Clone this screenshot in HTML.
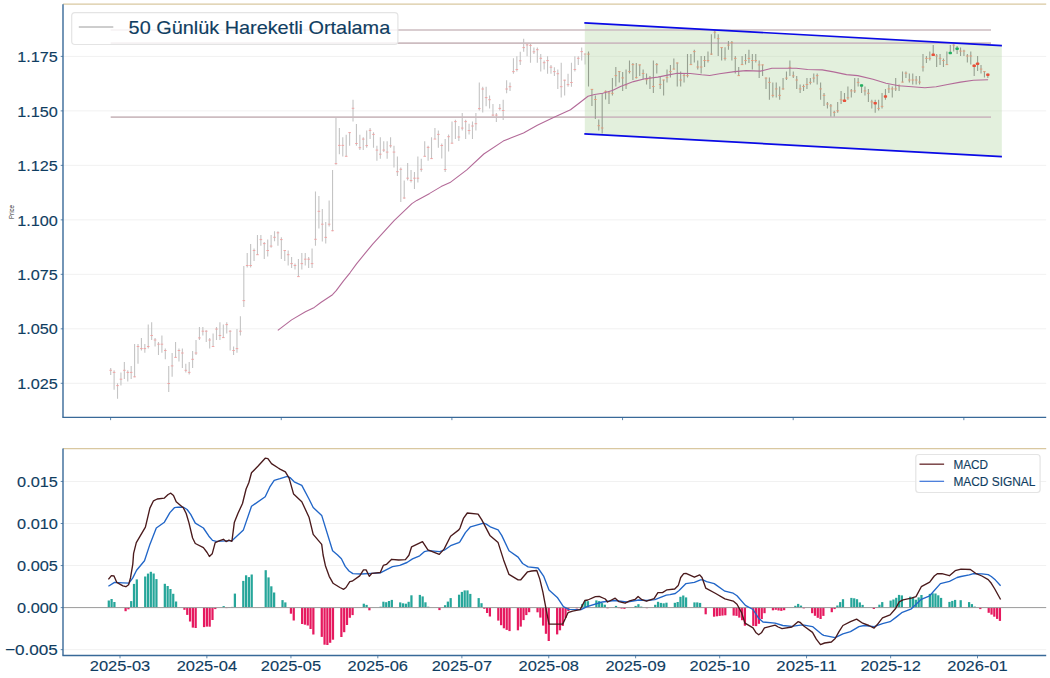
<!DOCTYPE html>
<html><head><meta charset="utf-8"><title>Chart</title>
<style>html,body{margin:0;padding:0;background:#fff;overflow:hidden}svg{display:block}</style></head>
<body>
<svg width="1050" height="678" viewBox="0 0 1050 678" font-family="Liberation Sans, sans-serif">
<style>text{stroke:#0f3d61;stroke-width:0.14px;paint-order:stroke}</style>
<rect width="1050" height="678" fill="#fff"/>
<line x1="63.0" x2="1046.2" y1="383.30" y2="383.30" stroke="#f1f1f1" stroke-width="1"/>
<line x1="63.0" x2="1046.2" y1="328.82" y2="328.82" stroke="#f1f1f1" stroke-width="1"/>
<line x1="63.0" x2="1046.2" y1="274.33" y2="274.33" stroke="#f1f1f1" stroke-width="1"/>
<line x1="63.0" x2="1046.2" y1="219.85" y2="219.85" stroke="#f1f1f1" stroke-width="1"/>
<line x1="63.0" x2="1046.2" y1="165.37" y2="165.37" stroke="#f1f1f1" stroke-width="1"/>
<line x1="63.0" x2="1046.2" y1="110.88" y2="110.88" stroke="#f1f1f1" stroke-width="1"/>
<line x1="63.0" x2="1046.2" y1="56.40" y2="56.40" stroke="#f1f1f1" stroke-width="1"/>
<path d="M110.70 368.1V374.9M114.11 370.3V389.8M117.53 383.3V398.7M120.94 372.6V385.6M124.35 361.9V378.9M127.77 370.3V381.4M131.18 366.1V378.9M134.59 344.1V377.3M138.00 344.1V363.8M141.42 337.9V350.5M144.83 344.1V352.8M148.24 324.6V348.6M151.66 322.3V340.0M155.07 337.9V346.5M158.48 342.1V355.1M161.90 335.5V352.8M165.31 348.6V359.3M168.72 365.9V392.1M172.13 353.0V376.8M175.55 342.1V357.4M178.96 348.6V361.6M182.37 348.6V368.1M185.79 363.8V372.4M189.20 361.9V374.5M192.61 350.9V368.1M196.02 340.0V355.1M199.44 326.9V340.0M202.85 326.9V335.5M206.26 330.3V342.1M209.68 337.9V348.6M213.09 333.5V346.5M216.50 326.9V340.0M219.92 322.3V340.0M223.33 324.6V337.9M226.74 322.3V333.5M230.16 330.3V350.5M233.57 346.5V355.1M236.98 329.1V352.8M240.39 316.2V335.5M243.81 265.9V307.1M247.22 252.9V267.5M250.63 244.1V267.5M254.05 248.5V261.0M257.46 235.1V255.0M260.87 235.1V245.8M264.28 241.9V259.1M267.70 239.6V256.6M271.11 235.1V247.7M274.52 231.2V241.2M277.94 231.2V245.8M281.35 237.3V259.1M284.76 250.5V261.0M288.18 250.5V265.5M291.59 257.1V268.0M295.00 263.6V269.6M298.42 259.1V276.6M301.83 252.9V269.6M305.24 252.9V265.5M308.65 257.1V268.0M312.07 248.5V268.0M315.48 191.5V245.8M318.89 196.0V228.5M322.31 209.0V241.6M325.72 222.0V243.5M329.13 200.4V226.4M332.55 170.1V231.2M335.96 117.1V164.7M339.37 127.9V154.2M342.78 137.2V156.6M346.20 134.7V156.6M349.61 132.3V145.8M353.02 99.7V121.6M356.44 124.0V145.8M359.85 134.7V150.1M363.26 137.2V150.1M366.68 130.4V147.7M370.09 127.9V139.1M373.50 132.3V147.7M376.91 145.8V160.7M380.33 137.2V158.7M383.74 141.2V152.1M387.15 141.2V158.7M390.57 137.2V147.7M393.98 145.8V167.5M397.39 156.6V176.1M400.80 167.5V202.0M404.22 180.5V198.8M407.63 163.1V180.5M411.04 170.1V182.6M414.46 172.0V189.1M417.87 156.6V182.6M421.28 158.7V171.7M424.70 141.2V156.6M428.11 145.8V160.7M431.52 137.2V159.1M434.93 127.9V139.1M438.35 130.4V147.7M441.76 143.5V158.6M445.17 139.0V171.9M448.59 134.6V151.6M452.00 121.6V143.5M455.41 119.7V139.0M458.83 126.0V141.1M462.24 113.0V130.5M465.65 119.7V139.0M469.06 123.7V134.6M472.48 121.6V139.0M475.89 113.0V130.5M479.30 82.5V110.5M482.72 86.7V112.6M486.13 86.7V106.2M489.54 95.5V108.4M492.96 104.1V116.2M496.37 113.0V121.9M499.78 104.1V110.5M503.19 99.7V119.9M506.61 80.2V93.2M510.02 82.5V91.1M513.43 58.3V73.7M516.85 56.2V71.6M520.26 51.8V65.1M523.67 38.7V51.8M527.09 43.2V56.2M530.50 43.2V62.7M533.91 47.6V54.1M537.33 47.6V62.7M540.74 54.1V71.6M544.15 60.6V69.5M547.56 56.2V73.7M550.98 65.1V73.7M554.39 67.2V76.0M557.80 69.5V89.0M561.22 62.7V97.6M564.63 79.7V95.5M568.04 73.7V86.7M571.46 62.7V86.7M574.87 56.2V71.6M578.28 56.2V65.1M581.69 47.6V60.5M585.11 53.2V64.6" stroke="#c4c4c4" stroke-width="1.1" fill="none"/>
<path d="M109.40 370.3h2.6M112.81 372.4h2.6M116.23 385.6h2.6M119.64 379.2h2.6M123.05 370.3h2.6M126.47 372.4h2.6M129.88 372.4h2.6M133.29 376.8h2.6M136.70 346.5h2.6M140.12 348.6h2.6M143.53 348.6h2.6M146.94 346.5h2.6M150.36 335.5h2.6M153.77 340.0h2.6M157.18 344.2h2.6M160.59 344.2h2.6M164.01 350.5h2.6M167.42 383.5h2.6M170.83 365.9h2.6M174.25 357.4h2.6M177.66 350.5h2.6M181.07 353.0h2.6M184.49 370.3h2.6M187.90 372.4h2.6M191.31 359.3h2.6M194.72 353.0h2.6M198.14 337.9h2.6M201.55 331.2h2.6M204.96 331.2h2.6M208.38 340.0h2.6M211.79 346.5h2.6M215.20 329.1h2.6M218.62 335.5h2.6M222.03 337.6h2.6M225.44 324.6h2.6M228.85 331.2h2.6M232.27 350.5h2.6M235.68 348.6h2.6M239.09 331.2h2.6M242.51 300.6h2.6M245.92 265.5h2.6M249.33 265.5h2.6M252.75 250.5h2.6M256.16 254.7h2.6M259.57 239.6h2.6M262.98 243.6h2.6M266.40 250.5h2.6M269.81 246.1h2.6M273.22 237.3h2.6M276.64 232.8h2.6M280.05 239.6h2.6M283.46 250.5h2.6M286.88 254.7h2.6M290.29 263.6h2.6M293.70 265.5h2.6M297.12 276.6h2.6M300.53 263.6h2.6M303.94 259.2h2.6M307.35 259.2h2.6M310.77 263.6h2.6M314.18 239.3h2.6M317.59 211.3h2.6M321.01 224.2h2.6M324.42 237.4h2.6M327.83 224.2h2.6M331.25 230.7h2.6M334.66 163.6h2.6M338.07 145.4h2.6M341.48 145.4h2.6M344.90 156.3h2.6M348.31 132.6h2.6M351.72 108.3h2.6M355.14 143.5h2.6M358.55 147.7h2.6M361.96 139.1h2.6M365.38 145.6h2.6M368.79 130.4h2.6M372.20 134.4h2.6M375.61 150.1h2.6M379.03 154.2h2.6M382.44 150.1h2.6M385.85 152.1h2.6M389.27 145.8h2.6M392.68 152.1h2.6M396.09 171.7h2.6M399.50 169.3h2.6M402.92 198.0h2.6M406.33 178.2h2.6M409.74 180.5h2.6M413.16 178.2h2.6M416.57 178.2h2.6M419.98 169.3h2.6M423.40 156.3h2.6M426.81 147.4h2.6M430.22 158.6h2.6M433.63 139.1h2.6M437.05 134.4h2.6M440.46 145.5h2.6M443.87 169.5h2.6M447.29 136.7h2.6M450.70 143.2h2.6M454.11 121.6h2.6M457.53 137.0h2.6M460.94 128.1h2.6M464.35 121.6h2.6M467.76 130.5h2.6M471.18 126.0h2.6M474.59 123.7h2.6M478.00 108.6h2.6M481.42 89.0h2.6M484.83 97.6h2.6M488.24 99.7h2.6M491.66 115.1h2.6M495.07 115.1h2.6M498.48 108.4h2.6M501.89 110.5h2.6M505.31 89.0h2.6M508.72 86.7h2.6M512.13 71.6h2.6M515.55 69.5h2.6M518.96 60.8h2.6M522.37 47.6h2.6M525.79 44.9h2.6M529.20 45.4h2.6M532.61 51.8h2.6M536.03 49.7h2.6M539.44 58.3h2.6M542.85 62.7h2.6M546.26 60.6h2.6M549.68 67.2h2.6M553.09 71.6h2.6M556.50 73.7h2.6M559.92 86.7h2.6M563.33 80.2h2.6M566.74 84.6h2.6M570.16 82.5h2.6M573.57 69.5h2.6M576.98 58.3h2.6M580.39 51.6h2.6M583.81 54.1h2.6" stroke="#f2a0a0" stroke-width="0.9" fill="none"/>
<polygon points="584.8,22.8 1001.8,45.6 1001.8,156.6 584.8,133.9" fill="#bddcae" fill-opacity="0.42"/>
<line x1="110.7" x2="991" y1="30.0" y2="30.0" stroke="#cdbcc0" stroke-width="1.7"/>
<line x1="110.7" x2="991" y1="43.05" y2="43.05" stroke="#cdbcc0" stroke-width="1.7"/>
<line x1="110.7" x2="991" y1="117.2" y2="117.2" stroke="#cdbcc0" stroke-width="1.7"/>
<path d="M588.52 51.6V86.5M591.93 88.9V105.9M595.35 95.4V118.9M598.76 119.6V130.5M602.17 93.0V133.5M605.59 90.5V99.5M609.00 91.4V104.0M612.41 78.1V95.4M615.82 67.0V86.5M619.24 71.1V82.4M622.65 71.9V90.9M626.06 69.5V88.9M629.48 60.5V73.5M632.89 63.0V80.0M636.30 63.0V78.4M639.72 64.6V75.9M643.13 69.5V79.2M646.54 73.5V84.5M649.95 75.9V88.9M653.37 60.5V93.0M656.78 63.0V73.5M660.19 75.9V88.9M663.61 79.7V95.4M667.02 69.5V82.4M670.43 65.1V77.6M673.85 58.4V69.5M677.26 62.5V86.5M680.67 71.6V86.5M684.08 73.5V82.4M687.50 54.1V77.6M690.91 54.1V64.6M694.32 49.7V62.5M697.74 60.5V69.5M701.15 56.0V73.5M704.56 56.0V67.0M707.98 51.6V62.5M711.39 34.3V54.9M714.80 30.5V38.6M718.21 34.3V56.0M721.63 47.2V60.5M725.04 47.2V60.5M728.45 41.1V49.7M731.87 41.1V60.5M735.28 56.0V73.5M738.69 67.0V75.9M742.11 56.0V65.1M745.52 54.1V64.6M748.93 49.7V63.0M752.34 54.1V69.5M755.76 54.1V62.5M759.17 60.5V78.1M762.58 64.6V75.9M766.00 77.6V88.9M769.41 77.6V99.8M772.82 82.4V97.5M776.24 82.4V97.5M779.65 86.5V99.8M783.06 78.1V89.7M786.47 71.6V80.0M789.89 60.5V75.9M793.30 71.6V78.1M796.71 75.9V88.9M800.13 84.5V93.0M803.54 84.5V90.9M806.95 78.1V88.9M810.37 78.1V84.5M813.78 73.5V82.4M817.19 73.5V84.5M820.60 82.4V99.8M824.02 93.0V105.9M827.43 101.9V108.4M830.84 104.0V116.5M834.26 110.8V116.5M837.67 101.9V112.8M841.08 90.9V104.0M844.50 93.0V101.9M847.91 86.5V99.8M851.32 88.9V97.5M854.73 78.1V93.0M858.15 78.1V86.5M861.56 84.5V93.0M864.97 86.5V95.4M868.39 88.9V101.9M871.80 99.8V108.4M875.21 99.8V112.8M878.62 99.8V110.5M882.04 93.0V108.4M885.45 88.9V99.8M888.86 84.5V93.0M892.28 86.5V97.5M895.69 78.1V90.9M899.10 84.5V90.9M902.52 71.6V82.4M905.93 71.6V78.1M909.34 73.5V82.4M912.75 73.5V84.5M916.17 75.9V84.5M919.58 75.9V84.5M922.99 54.1V71.6M926.41 56.0V63.0M929.82 51.6V60.5M933.23 45.1V56.0M936.65 54.1V67.0M940.06 54.1V65.1M943.47 58.4V67.0M946.88 51.6V65.1M950.30 45.1V54.1M953.71 44.3V51.6M957.12 45.9V54.1M960.54 47.6V56.0M963.95 49.7V56.0M967.36 54.1V62.5M970.78 51.6V64.6M974.19 64.6V75.9M977.60 56.0V71.1M981.01 65.1V73.5M984.43 71.1V77.6M987.84 73.5V78.1" stroke="#96a091" stroke-width="1.1" fill="none"/>
<path d="M587.22 54.1h2.6M590.63 89.4h2.6M594.05 99.5h2.6M597.46 125.7h2.6M600.87 128.0h2.6M604.29 91.4h2.6M607.70 93.0h2.6M611.11 93.3h2.6M614.52 75.6h2.6M617.94 71.6h2.6M621.35 77.9h2.6M624.76 84.9h2.6M628.18 71.6h2.6M631.59 64.6h2.6M635.00 77.6h2.6M638.42 64.9h2.6M641.83 73.5h2.6M645.24 79.7h2.6M648.65 78.1h2.6M652.07 86.5h2.6M655.48 64.6h2.6M658.89 84.5h2.6M662.31 80.0h2.6M665.72 77.6h2.6M669.13 71.6h2.6M672.55 69.1h2.6M675.96 63.0h2.6M679.37 80.0h2.6M682.78 75.6h2.6M686.20 75.6h2.6M689.61 64.6h2.6M693.02 51.6h2.6M696.44 67.0h2.6M699.85 67.0h2.6M703.26 60.5h2.6M706.68 60.5h2.6M710.09 54.1h2.6M713.50 32.2h2.6M716.91 38.6h2.6M720.33 47.6h2.6M723.74 58.4h2.6M727.15 45.1h2.6M730.57 42.7h2.6M733.98 58.4h2.6M737.39 75.6h2.6M740.81 64.6h2.6M744.22 60.5h2.6M747.63 58.4h2.6M751.04 60.5h2.6M754.46 60.5h2.6M757.87 64.9h2.6M761.28 64.9h2.6M764.70 78.1h2.6M768.11 82.4h2.6M771.52 95.4h2.6M774.94 88.9h2.6M778.35 95.4h2.6M781.76 88.9h2.6M785.17 78.1h2.6M788.59 67.4h2.6M792.00 75.9h2.6M795.41 80.0h2.6M798.83 88.9h2.6M802.24 86.5h2.6M805.65 84.5h2.6M809.07 82.4h2.6M812.48 78.1h2.6M815.89 75.6h2.6M819.30 88.9h2.6M822.72 95.4h2.6M826.13 104.0h2.6M829.54 105.9h2.6M832.96 112.4h2.6M836.37 110.8h2.6M839.78 99.8h2.6M843.20 100.8h2.6M846.61 97.8h2.6M850.02 90.9h2.6M853.43 90.9h2.6M856.85 82.4h2.6M860.26 85.5h2.6M863.67 90.9h2.6M867.09 93.3h2.6M870.50 101.9h2.6M873.91 103.2h2.6M877.33 108.4h2.6M880.74 106.4h2.6M884.15 96.5h2.6M887.56 88.9h2.6M890.98 88.9h2.6M894.39 88.9h2.6M897.80 85.7h2.6M901.22 82.1h2.6M904.63 73.2h2.6M908.04 80.0h2.6M911.46 80.0h2.6M914.87 80.0h2.6M918.28 82.1h2.6M921.69 67.0h2.6M925.11 58.4h2.6M928.52 58.4h2.6M931.93 54.9h2.6M935.35 56.0h2.6M938.76 58.4h2.6M942.17 60.5h2.6M945.59 64.6h2.6M949.00 52.9h2.6M952.41 45.1h2.6M955.82 48.7h2.6M959.24 51.1h2.6M962.65 51.1h2.6M966.06 56.0h2.6M969.48 56.0h2.6M972.89 65.9h2.6M976.30 63.8h2.6M979.72 69.1h2.6M983.13 71.6h2.6M986.54 74.6h2.6" stroke="#e89a78" stroke-width="0.9" fill="none"/>
<polyline points="277.8,330.4 291.6,319.9 305.4,311.8 314.3,307.4 320.8,302.5 332.5,294.7 336.2,290.7 343.5,280.9 350,272.8 356.5,263.9 364.6,253.9 372.7,244.1 381.1,234.9 394.1,220.7 411.9,203.6 416.8,200.4 429.7,193.4 441.1,186.6 450,182.6 466.8,169.9 483.8,154 503.2,141.1 511.3,137.8 523.5,133 537.3,125.3 553.5,117.6 570.5,109.8 580.3,102.2 588,96.3 594.5,94.5 602.7,93.3 612.4,90.5 620.5,86.5 633.5,81.6 644.9,78.7 657.8,77.1 667.6,75.1 677.3,73.2 690.3,73.5 701.6,74.8 709.7,75.5 719.5,73.8 734.6,71.6 746,70.6 760.5,71.1 771.9,68.3 784.9,68.2 796.2,68.2 807.6,69.5 822.2,69.9 833.5,71.9 846.5,74.6 857.8,75.6 873,79.2 886,83.2 898.9,85.7 911.9,86.8 924.9,87.8 936.2,86.8 947.6,84.5 960.5,82.1 973.5,80.3 988.1,79.7" fill="none" stroke="#b36a98" stroke-width="1.1" stroke-linejoin="round"/>
<line x1="584.3" y1="22.8" x2="1001.9" y2="45.6" stroke="#0a0ae6" stroke-width="1.7"/>
<line x1="584.3" y1="133.9" x2="1001.9" y2="156.6" stroke="#0a0ae6" stroke-width="1.7"/>
<rect x="842.85" y="99.5" width="3.3" height="2.5" rx="0.7" fill="#e8503a"/>
<rect x="873.56" y="101.9" width="3.3" height="2.5" rx="0.7" fill="#e8503a"/>
<rect x="883.80" y="95.3" width="3.3" height="2.5" rx="0.7" fill="#e8503a"/>
<rect x="931.58" y="53.6" width="3.3" height="2.5" rx="0.7" fill="#e8503a"/>
<rect x="972.54" y="64.6" width="3.3" height="2.5" rx="0.7" fill="#e8503a"/>
<rect x="975.95" y="62.5" width="3.3" height="2.5" rx="0.7" fill="#e8503a"/>
<rect x="986.19" y="73.4" width="3.3" height="2.5" rx="0.7" fill="#e8503a"/>
<rect x="859.91" y="84.3" width="3.3" height="2.5" rx="0.7" fill="#22b060"/>
<rect x="948.65" y="51.7" width="3.3" height="2.5" rx="0.7" fill="#22b060"/>
<rect x="955.47" y="47.5" width="3.3" height="2.5" rx="0.7" fill="#22b060"/>
<line x1="63.0" x2="1046.2" y1="4.15" y2="4.15" stroke="#d9c8a0" stroke-width="1.35"/>
<line x1="63.0" x2="63.0" y1="4.15" y2="417.45" stroke="#386998" stroke-width="1.4"/>
<line x1="62.4" x2="1046.2" y1="417.45" y2="417.45" stroke="#386998" stroke-width="1.3"/>
<line x1="60.7" x2="63.0" y1="383.30" y2="383.30" stroke="#386998" stroke-width="0.8"/>
<text x="57.9" y="388.95" font-size="15.45" fill="#0f3d61" text-anchor="end" textLength="40.6" lengthAdjust="spacingAndGlyphs">1.025</text>
<line x1="60.7" x2="63.0" y1="328.82" y2="328.82" stroke="#386998" stroke-width="0.8"/>
<text x="57.9" y="334.47" font-size="15.45" fill="#0f3d61" text-anchor="end" textLength="40.6" lengthAdjust="spacingAndGlyphs">1.050</text>
<line x1="60.7" x2="63.0" y1="274.33" y2="274.33" stroke="#386998" stroke-width="0.8"/>
<text x="57.9" y="279.98" font-size="15.45" fill="#0f3d61" text-anchor="end" textLength="40.6" lengthAdjust="spacingAndGlyphs">1.075</text>
<line x1="60.7" x2="63.0" y1="219.85" y2="219.85" stroke="#386998" stroke-width="0.8"/>
<text x="57.9" y="225.50" font-size="15.45" fill="#0f3d61" text-anchor="end" textLength="40.6" lengthAdjust="spacingAndGlyphs">1.100</text>
<line x1="60.7" x2="63.0" y1="165.37" y2="165.37" stroke="#386998" stroke-width="0.8"/>
<text x="57.9" y="171.02" font-size="15.45" fill="#0f3d61" text-anchor="end" textLength="40.6" lengthAdjust="spacingAndGlyphs">1.125</text>
<line x1="60.7" x2="63.0" y1="110.88" y2="110.88" stroke="#386998" stroke-width="0.8"/>
<text x="57.9" y="116.53" font-size="15.45" fill="#0f3d61" text-anchor="end" textLength="40.6" lengthAdjust="spacingAndGlyphs">1.150</text>
<line x1="60.7" x2="63.0" y1="56.40" y2="56.40" stroke="#386998" stroke-width="0.8"/>
<text x="57.9" y="62.05" font-size="15.45" fill="#0f3d61" text-anchor="end" textLength="40.6" lengthAdjust="spacingAndGlyphs">1.175</text>
<line x1="110.60" x2="110.60" y1="417.45" y2="420.15" stroke="#386998" stroke-width="0.8"/>
<line x1="281.25" x2="281.25" y1="417.45" y2="420.15" stroke="#386998" stroke-width="0.8"/>
<line x1="451.90" x2="451.90" y1="417.45" y2="420.15" stroke="#386998" stroke-width="0.8"/>
<line x1="622.55" x2="622.55" y1="417.45" y2="420.15" stroke="#386998" stroke-width="0.8"/>
<line x1="793.20" x2="793.20" y1="417.45" y2="420.15" stroke="#386998" stroke-width="0.8"/>
<line x1="963.85" x2="963.85" y1="417.45" y2="420.15" stroke="#386998" stroke-width="0.8"/>
<text transform="translate(13.9,212) rotate(-90)" font-size="6.8" fill="#333" stroke="none" style="stroke:none" text-anchor="middle" textLength="14" lengthAdjust="spacingAndGlyphs">Price</text>
<rect x="71.7" y="12.6" width="326.2" height="31.9" rx="3.2" fill="#fff" fill-opacity="0.8" stroke="#e4e4e4" stroke-width="1.2"/>
<line x1="78.8" x2="113.3" y1="27" y2="27" stroke="#9c9c9c" stroke-width="1.0"/>
<text x="128.6" y="33.7" font-size="17.9" fill="#0f3d61" textLength="261.6" lengthAdjust="spacingAndGlyphs">50 Günlük Hareketli Ortalama</text>
<line x1="63.0" x2="1046.2" y1="649.65" y2="649.65" stroke="#f1f1f1" stroke-width="1"/>
<line x1="63.0" x2="1046.2" y1="565.55" y2="565.55" stroke="#f1f1f1" stroke-width="1"/>
<line x1="63.0" x2="1046.2" y1="523.50" y2="523.50" stroke="#f1f1f1" stroke-width="1"/>
<line x1="63.0" x2="1046.2" y1="481.45" y2="481.45" stroke="#f1f1f1" stroke-width="1"/>
<g fill="#26a69a"><rect x="107.67" y="600.5" width="2.24" height="7.1"/><rect x="110.47" y="599.0" width="2.24" height="8.6"/><rect x="113.28" y="602.0" width="2.24" height="5.6"/><rect x="130.09" y="601.1" width="2.24" height="6.5"/><rect x="132.89" y="583.9" width="2.24" height="23.7"/><rect x="135.69" y="579.4" width="2.24" height="28.2"/><rect x="144.10" y="576.5" width="2.24" height="31.1"/><rect x="146.90" y="573.6" width="2.24" height="34.0"/><rect x="149.71" y="571.8" width="2.24" height="35.8"/><rect x="152.51" y="573.5" width="2.24" height="34.1"/><rect x="155.31" y="579.1" width="2.24" height="28.5"/><rect x="163.72" y="583.8" width="2.24" height="23.8"/><rect x="166.52" y="586.0" width="2.24" height="21.6"/><rect x="169.32" y="589.0" width="2.24" height="18.6"/><rect x="172.12" y="593.8" width="2.24" height="13.8"/><rect x="174.93" y="601.5" width="2.24" height="6.1"/><rect x="222.57" y="606.1" width="2.24" height="1.5"/><rect x="228.17" y="607.1" width="2.24" height="0.5"/><rect x="230.97" y="606.9" width="2.24" height="0.7"/><rect x="233.77" y="593.6" width="2.24" height="14.0"/><rect x="242.18" y="580.9" width="2.24" height="26.7"/><rect x="244.98" y="575.3" width="2.24" height="32.3"/><rect x="247.79" y="577.1" width="2.24" height="30.5"/><rect x="250.59" y="574.5" width="2.24" height="33.1"/><rect x="264.60" y="570.2" width="2.24" height="37.4"/><rect x="267.40" y="577.4" width="2.24" height="30.2"/><rect x="270.20" y="586.3" width="2.24" height="21.3"/><rect x="273.01" y="592.5" width="2.24" height="15.1"/><rect x="281.41" y="600.1" width="2.24" height="7.5"/><rect x="284.22" y="602.4" width="2.24" height="5.2"/><rect x="362.68" y="603.7" width="2.24" height="3.9"/><rect x="365.48" y="604.9" width="2.24" height="2.7"/><rect x="379.49" y="606.7" width="2.24" height="0.9"/><rect x="382.30" y="601.7" width="2.24" height="5.9"/><rect x="385.10" y="602.2" width="2.24" height="5.4"/><rect x="387.90" y="601.0" width="2.24" height="6.6"/><rect x="390.70" y="599.9" width="2.24" height="7.7"/><rect x="399.11" y="602.4" width="2.24" height="5.2"/><rect x="401.91" y="603.3" width="2.24" height="4.3"/><rect x="404.71" y="603.7" width="2.24" height="3.9"/><rect x="407.52" y="601.8" width="2.24" height="5.8"/><rect x="410.32" y="595.3" width="2.24" height="12.3"/><rect x="418.73" y="594.9" width="2.24" height="12.7"/><rect x="421.53" y="596.4" width="2.24" height="11.2"/><rect x="424.33" y="602.3" width="2.24" height="5.3"/><rect x="427.13" y="606.7" width="2.24" height="0.9"/><rect x="443.95" y="605.2" width="2.24" height="2.4"/><rect x="446.75" y="601.6" width="2.24" height="6.0"/><rect x="449.55" y="598.1" width="2.24" height="9.5"/><rect x="457.96" y="594.7" width="2.24" height="12.9"/><rect x="460.76" y="591.9" width="2.24" height="15.7"/><rect x="463.56" y="590.4" width="2.24" height="17.2"/><rect x="466.37" y="590.4" width="2.24" height="17.2"/><rect x="469.17" y="593.9" width="2.24" height="13.7"/><rect x="477.57" y="598.1" width="2.24" height="9.5"/><rect x="480.38" y="603.2" width="2.24" height="4.4"/><rect x="581.26" y="604.0" width="2.24" height="3.6"/><rect x="584.06" y="600.5" width="2.24" height="7.1"/><rect x="586.86" y="601.2" width="2.24" height="6.4"/><rect x="595.27" y="600.4" width="2.24" height="7.2"/><rect x="598.07" y="601.1" width="2.24" height="6.5"/><rect x="600.88" y="603.1" width="2.24" height="4.5"/><rect x="603.68" y="604.7" width="2.24" height="2.9"/><rect x="614.89" y="605.9" width="2.24" height="1.7"/><rect x="634.50" y="605.9" width="2.24" height="1.7"/><rect x="637.31" y="604.2" width="2.24" height="3.4"/><rect x="640.11" y="606.6" width="2.24" height="1.0"/><rect x="654.12" y="604.8" width="2.24" height="2.8"/><rect x="656.92" y="601.8" width="2.24" height="5.8"/><rect x="659.72" y="602.9" width="2.24" height="4.7"/><rect x="662.53" y="603.3" width="2.24" height="4.3"/><rect x="665.33" y="602.7" width="2.24" height="4.9"/><rect x="673.74" y="602.8" width="2.24" height="4.8"/><rect x="676.54" y="602.0" width="2.24" height="5.6"/><rect x="679.34" y="596.8" width="2.24" height="10.8"/><rect x="682.14" y="595.5" width="2.24" height="12.1"/><rect x="684.94" y="597.4" width="2.24" height="10.2"/><rect x="693.35" y="602.4" width="2.24" height="5.2"/><rect x="696.15" y="602.4" width="2.24" height="5.2"/><rect x="698.96" y="602.9" width="2.24" height="4.7"/><rect x="794.23" y="605.8" width="2.24" height="1.8"/><rect x="797.04" y="603.9" width="2.24" height="3.7"/><rect x="799.84" y="605.6" width="2.24" height="2.0"/><rect x="836.27" y="605.5" width="2.24" height="2.1"/><rect x="839.07" y="602.1" width="2.24" height="5.5"/><rect x="841.87" y="599.2" width="2.24" height="8.4"/><rect x="850.28" y="597.9" width="2.24" height="9.7"/><rect x="853.08" y="598.3" width="2.24" height="9.3"/><rect x="855.88" y="599.2" width="2.24" height="8.4"/><rect x="858.69" y="602.4" width="2.24" height="5.2"/><rect x="861.49" y="604.9" width="2.24" height="2.7"/><rect x="875.50" y="607.2" width="2.24" height="0.4"/><rect x="878.30" y="604.7" width="2.24" height="2.9"/><rect x="881.11" y="602.1" width="2.24" height="5.5"/><rect x="889.51" y="600.6" width="2.24" height="7.0"/><rect x="892.31" y="599.5" width="2.24" height="8.1"/><rect x="895.12" y="597.8" width="2.24" height="9.8"/><rect x="897.92" y="594.9" width="2.24" height="12.7"/><rect x="900.72" y="595.4" width="2.24" height="12.2"/><rect x="909.13" y="596.7" width="2.24" height="10.9"/><rect x="911.93" y="597.9" width="2.24" height="9.7"/><rect x="914.73" y="599.7" width="2.24" height="7.9"/><rect x="917.54" y="597.4" width="2.24" height="10.2"/><rect x="920.34" y="595.0" width="2.24" height="12.6"/><rect x="928.74" y="593.9" width="2.24" height="13.7"/><rect x="931.55" y="593.3" width="2.24" height="14.3"/><rect x="934.35" y="593.5" width="2.24" height="14.1"/><rect x="937.15" y="595.3" width="2.24" height="12.3"/><rect x="939.95" y="597.9" width="2.24" height="9.7"/><rect x="948.36" y="601.9" width="2.24" height="5.7"/><rect x="951.16" y="600.9" width="2.24" height="6.7"/><rect x="953.97" y="599.9" width="2.24" height="7.7"/><rect x="959.57" y="600.2" width="2.24" height="7.4"/><rect x="967.98" y="602.1" width="2.24" height="5.5"/><rect x="970.78" y="604.1" width="2.24" height="3.5"/><rect x="973.58" y="606.6" width="2.24" height="1.0"/></g>
<g fill="#e6195f"><rect x="124.48" y="607.6" width="2.24" height="3.6"/><rect x="127.29" y="607.6" width="2.24" height="1.7"/><rect x="183.33" y="607.6" width="2.24" height="2.2"/><rect x="186.14" y="607.6" width="2.24" height="7.3"/><rect x="188.94" y="607.6" width="2.24" height="13.9"/><rect x="191.74" y="607.6" width="2.24" height="20.0"/><rect x="194.54" y="607.6" width="2.24" height="20.4"/><rect x="202.95" y="607.6" width="2.24" height="19.5"/><rect x="205.75" y="607.6" width="2.24" height="19.0"/><rect x="208.55" y="607.6" width="2.24" height="19.1"/><rect x="211.36" y="607.6" width="2.24" height="12.4"/><rect x="214.16" y="607.6" width="2.24" height="1.5"/><rect x="225.37" y="607.6" width="2.24" height="0.5"/><rect x="289.82" y="607.6" width="2.24" height="6.1"/><rect x="292.62" y="607.6" width="2.24" height="12.9"/><rect x="301.03" y="607.6" width="2.24" height="16.4"/><rect x="303.83" y="607.6" width="2.24" height="17.1"/><rect x="306.63" y="607.6" width="2.24" height="17.9"/><rect x="309.44" y="607.6" width="2.24" height="21.4"/><rect x="312.24" y="607.6" width="2.24" height="26.9"/><rect x="320.65" y="607.6" width="2.24" height="29.3"/><rect x="323.45" y="607.6" width="2.24" height="37.1"/><rect x="326.25" y="607.6" width="2.24" height="37.4"/><rect x="329.05" y="607.6" width="2.24" height="35.2"/><rect x="331.85" y="607.6" width="2.24" height="32.1"/><rect x="340.26" y="607.6" width="2.24" height="29.4"/><rect x="343.06" y="607.6" width="2.24" height="24.6"/><rect x="345.87" y="607.6" width="2.24" height="17.4"/><rect x="348.67" y="607.6" width="2.24" height="10.2"/><rect x="351.47" y="607.6" width="2.24" height="7.5"/><rect x="368.28" y="607.6" width="2.24" height="2.7"/><rect x="438.34" y="607.6" width="2.24" height="2.5"/><rect x="483.18" y="607.6" width="2.24" height="1.2"/><rect x="485.98" y="607.6" width="2.24" height="5.4"/><rect x="488.78" y="607.6" width="2.24" height="8.9"/><rect x="497.19" y="607.6" width="2.24" height="13.0"/><rect x="499.99" y="607.6" width="2.24" height="17.6"/><rect x="502.80" y="607.6" width="2.24" height="20.7"/><rect x="505.60" y="607.6" width="2.24" height="22.3"/><rect x="508.40" y="607.6" width="2.24" height="23.5"/><rect x="516.81" y="607.6" width="2.24" height="22.7"/><rect x="519.61" y="607.6" width="2.24" height="19.0"/><rect x="522.41" y="607.6" width="2.24" height="12.5"/><rect x="525.21" y="607.6" width="2.24" height="7.5"/><rect x="528.02" y="607.6" width="2.24" height="4.6"/><rect x="536.42" y="607.6" width="2.24" height="4.7"/><rect x="539.23" y="607.6" width="2.24" height="10.0"/><rect x="542.03" y="607.6" width="2.24" height="18.0"/><rect x="544.83" y="607.6" width="2.24" height="26.2"/><rect x="547.63" y="607.6" width="2.24" height="33.4"/><rect x="556.04" y="607.6" width="2.24" height="26.8"/><rect x="558.84" y="607.6" width="2.24" height="22.7"/><rect x="561.64" y="607.6" width="2.24" height="18.3"/><rect x="564.45" y="607.6" width="2.24" height="10.3"/><rect x="567.25" y="607.6" width="2.24" height="3.5"/><rect x="575.65" y="607.6" width="2.24" height="0.8"/><rect x="606.48" y="607.6" width="2.24" height="0.7"/><rect x="617.69" y="607.6" width="2.24" height="0.5"/><rect x="620.49" y="607.6" width="2.24" height="1.0"/><rect x="623.29" y="607.6" width="2.24" height="1.3"/><rect x="645.71" y="607.6" width="2.24" height="0.6"/><rect x="704.56" y="607.6" width="2.24" height="6.7"/><rect x="712.97" y="607.6" width="2.24" height="9.1"/><rect x="715.77" y="607.6" width="2.24" height="8.7"/><rect x="718.57" y="607.6" width="2.24" height="8.3"/><rect x="721.37" y="607.6" width="2.24" height="8.0"/><rect x="724.18" y="607.6" width="2.24" height="7.7"/><rect x="732.58" y="607.6" width="2.24" height="8.0"/><rect x="735.39" y="607.6" width="2.24" height="8.3"/><rect x="738.19" y="607.6" width="2.24" height="10.0"/><rect x="740.99" y="607.6" width="2.24" height="12.6"/><rect x="743.79" y="607.6" width="2.24" height="18.1"/><rect x="752.20" y="607.6" width="2.24" height="18.3"/><rect x="755.00" y="607.6" width="2.24" height="18.5"/><rect x="757.80" y="607.6" width="2.24" height="16.2"/><rect x="760.61" y="607.6" width="2.24" height="11.4"/><rect x="763.41" y="607.6" width="2.24" height="5.6"/><rect x="771.82" y="607.6" width="2.24" height="2.7"/><rect x="774.62" y="607.6" width="2.24" height="2.2"/><rect x="777.42" y="607.6" width="2.24" height="2.9"/><rect x="780.22" y="607.6" width="2.24" height="3.3"/><rect x="783.03" y="607.6" width="2.24" height="2.6"/><rect x="802.64" y="607.6" width="2.24" height="0.8"/><rect x="811.05" y="607.6" width="2.24" height="5.6"/><rect x="813.85" y="607.6" width="2.24" height="8.2"/><rect x="816.65" y="607.6" width="2.24" height="10.2"/><rect x="819.45" y="607.6" width="2.24" height="11.4"/><rect x="822.26" y="607.6" width="2.24" height="8.3"/><rect x="830.66" y="607.6" width="2.24" height="4.6"/><rect x="833.47" y="607.6" width="2.24" height="1.5"/><rect x="872.70" y="607.6" width="2.24" height="1.4"/><rect x="979.19" y="607.6" width="2.24" height="1.5"/><rect x="987.59" y="607.6" width="2.24" height="5.2"/><rect x="990.40" y="607.6" width="2.24" height="7.0"/><rect x="993.20" y="607.6" width="2.24" height="9.1"/><rect x="996.00" y="607.6" width="2.24" height="11.3"/><rect x="998.80" y="607.6" width="2.24" height="13.3"/></g>
<line x1="63.0" x2="1046.2" y1="607.6" y2="607.6" stroke="#9a9a9a" stroke-width="1"/>
<polyline points="108.4,586.2 114.5,582.4 122.9,582.9 129,583.2 132.8,577.9 136.6,570.2 144.5,560.7 149.9,544.4 156.3,528 164.4,522.2 169.9,512.6 174.4,507.7 178,507.2 183.5,507.2 187.1,509.5 190.7,514.4 195.3,523.1 203.4,528 208.9,536.2 212.5,540.4 216.2,541.3 231.9,540.7 243.4,529.9 251.5,506.3 265.2,496.8 269.7,487.2 274.2,480.3 280,478.7 287.3,476.3 290,477.6 294.2,481.8 301.8,485.4 309,499 313.2,507.5 321.7,515.4 332.6,550.7 337.6,555 341.4,558.8 345.2,566.4 349,571 352.9,573.6 361.2,574 371.9,573.3 380.3,572.8 392.5,566.7 399.8,565.3 407,562.5 412.5,558.9 419.7,555.8 424.3,551.7 428.8,550.7 439.7,551.7 444.2,550.2 450.6,545.7 458.8,542.6 460,541.7 465.4,532.6 470.5,526.8 483.6,523.2 486.3,524.1 490.9,527.2 498.1,529.9 501.7,535.4 509,550.8 518.1,557.1 522.6,563.5 528.1,566.8 538,568 543.6,576.1 549,590.1 557.3,597.4 563.4,606.6 568.8,609.3 581,609.6 587,606.6 602.3,602 614.5,600.5 626.7,602 638.9,600 646.5,600.5 654.9,599.7 666.3,595.1 670,594.7 675.3,593.5 679.1,590.5 686,583.6 694.4,582.4 700.5,579.8 702.8,579.8 706.6,581.6 714.2,583.6 724.9,591.2 733.2,593.2 737,595.8 745.4,605.4 753,609.5 758.4,617.9 763,622 775.1,623.2 782.8,625.5 791.9,626.3 800.3,625.1 804.1,625.2 812.5,626.6 822.4,634.7 823.8,635.4 835.2,637.7 842.9,633.9 850.5,631.6 858.9,626.6 864.2,625.5 874.1,626.6 882.5,623.7 890.1,621.7 896.2,617.1 902.3,612.3 911.4,608.8 921.3,599.3 929.7,595.8 940.4,583.6 949.5,581.3 957.1,577.5 961,576.5 969.3,574.9 973.5,573.6 981.9,573.9 988.2,574.7 991.3,576.5 995.5,580.1 1000.6,585.7" fill="none" stroke="#2166c8" stroke-width="1.35" stroke-linejoin="round"/>
<polyline points="108.4,579.4 111.4,575.6 114,576 116.8,582.4 122.9,585.9 125.9,586.7 128.6,584.7 130.5,577.9 132.8,564.1 133.6,553.4 136.3,542.6 145.4,527.1 149.9,508.1 153.5,500.8 157.2,499 164.4,498.1 168.1,494.5 170.8,493.2 173.5,495.4 176.2,501.7 183.5,508.1 186.2,513.5 188.9,522.6 192.6,538 195.3,543.5 203.4,547.6 207.1,552.5 209.4,556.5 212.2,553.8 215.2,542.6 219.8,540.7 223.4,539.3 226.1,541.6 228.9,540.2 231.9,541.3 234.3,522.6 237.9,513.5 242.5,503.5 246.1,489 248.8,482.7 251.5,472.7 257.9,466.3 265.2,458.2 267.9,458.7 271.5,463.6 277.9,467.8 280,469.1 285.4,471.8 289.1,478.1 293.6,494.1 301.8,501.7 309,517.2 313.2,534.4 321.7,544.4 323.1,555 325.4,565.7 329.2,576.3 333,583.2 339.9,587.5 343.7,589.3 346,587.5 349.8,581.7 352.1,581.2 359.7,575.9 363.5,569.9 366.1,569.9 369.3,576.3 371.9,573.3 380.3,572.5 383.3,565.4 386.4,564.4 391.7,559.3 398.6,560 405.4,559.6 408.9,555.3 411.6,546.8 422.5,541.7 427.9,549.8 439.3,554.4 444.2,548.9 450.6,536.2 458.8,529.9 460,528.1 463.6,518.1 467.3,513 478.1,514.1 481.8,519.9 489.9,535.4 498.1,542.6 503.6,559.9 509,574.4 518.1,579.8 520.8,579.8 527.6,571.8 531.7,571 536.8,570.5 539.8,579.1 542.9,592.1 545.9,608.1 549,624.1 562.7,624.1 568,612.7 572.6,611.1 580.2,609.6 584.8,600.5 587.8,600 595.4,596.7 599.2,596.4 605.3,599 607.6,602 615.2,598.2 619,601.7 625.1,603.2 629.7,600.9 635,599.4 638.1,596.4 641.9,599.7 646.5,601.2 654.1,598.6 657.9,592.6 662.5,592.6 667,589.8 674.7,589 677.7,586 678.4,585.1 680.7,577.5 683.7,573.7 686,573.4 694.4,577.2 699.7,574.9 702,577.5 705.8,588.2 715.7,593.5 724.9,598.9 733.2,601.1 737,604.2 741.6,612.6 745,623.2 753,627.8 756.1,632.8 758.7,634.7 761.4,632.8 764.5,627.8 775.1,625.2 778.2,627 782,628.6 791.9,627 798,621.7 800.3,622.5 804.1,626.3 812.5,632.4 816.3,639.2 820.5,644.6 824.6,643 831.4,642 835.2,638.5 839,631.6 842.9,625.5 850.5,621.7 856.6,619.1 862.7,623.2 868.8,625.5 874.1,628.1 877.1,624.8 882.5,617.9 890.1,614.9 895.4,608.8 899.2,601.9 903,599.9 911.4,598.1 916,596.6 921.3,586.7 929.7,582.1 934.3,576 937.3,573.7 941.9,573.7 949.4,575.7 955.2,570.7 961,569.1 970.4,569.5 975.6,573.3 981.9,576 988.2,579.6 991.3,583.3 994.5,588.5 1000.6,599.5" fill="none" stroke="#4a1a1c" stroke-width="1.35" stroke-linejoin="round"/>
<line x1="63.0" x2="1046.2" y1="448.55" y2="448.55" stroke="#d9c8a0" stroke-width="1.35"/>
<line x1="63.0" x2="63.0" y1="448.55" y2="655.5" stroke="#386998" stroke-width="1.4"/>
<line x1="62.4" x2="1046.2" y1="655.5" y2="655.5" stroke="#386998" stroke-width="1.3"/>
<line x1="60.7" x2="63.0" y1="481.45" y2="481.45" stroke="#386998" stroke-width="0.8"/>
<text x="57.9" y="487.10" font-size="15.45" fill="#0f3d61" text-anchor="end" textLength="40.8" lengthAdjust="spacingAndGlyphs">0.015</text>
<line x1="60.7" x2="63.0" y1="523.50" y2="523.50" stroke="#386998" stroke-width="0.8"/>
<text x="57.9" y="529.15" font-size="15.45" fill="#0f3d61" text-anchor="end" textLength="40.8" lengthAdjust="spacingAndGlyphs">0.010</text>
<line x1="60.7" x2="63.0" y1="565.55" y2="565.55" stroke="#386998" stroke-width="0.8"/>
<text x="57.9" y="571.20" font-size="15.45" fill="#0f3d61" text-anchor="end" textLength="40.8" lengthAdjust="spacingAndGlyphs">0.005</text>
<line x1="60.7" x2="63.0" y1="607.60" y2="607.60" stroke="#386998" stroke-width="0.8"/>
<text x="57.9" y="613.25" font-size="15.45" fill="#0f3d61" text-anchor="end" textLength="40.8" lengthAdjust="spacingAndGlyphs">0.000</text>
<line x1="60.7" x2="63.0" y1="649.65" y2="649.65" stroke="#386998" stroke-width="0.8"/>
<text x="57.9" y="655.30" font-size="15.45" fill="#0f3d61" text-anchor="end" textLength="52.8" lengthAdjust="spacingAndGlyphs">−0.005</text>
<line x1="120.00" x2="120.00" y1="655.5" y2="658.3" stroke="#386998" stroke-width="0.8"/>
<text x="120.00" y="671.2" font-size="15.45" fill="#0f3d61" text-anchor="middle" textLength="60.4" lengthAdjust="spacingAndGlyphs">2025-03</text>
<line x1="206.87" x2="206.87" y1="655.5" y2="658.3" stroke="#386998" stroke-width="0.8"/>
<text x="206.87" y="671.2" font-size="15.45" fill="#0f3d61" text-anchor="middle" textLength="60.4" lengthAdjust="spacingAndGlyphs">2025-04</text>
<line x1="290.94" x2="290.94" y1="655.5" y2="658.3" stroke="#386998" stroke-width="0.8"/>
<text x="290.94" y="671.2" font-size="15.45" fill="#0f3d61" text-anchor="middle" textLength="60.4" lengthAdjust="spacingAndGlyphs">2025-05</text>
<line x1="377.81" x2="377.81" y1="655.5" y2="658.3" stroke="#386998" stroke-width="0.8"/>
<text x="377.81" y="671.2" font-size="15.45" fill="#0f3d61" text-anchor="middle" textLength="60.4" lengthAdjust="spacingAndGlyphs">2025-06</text>
<line x1="461.88" x2="461.88" y1="655.5" y2="658.3" stroke="#386998" stroke-width="0.8"/>
<text x="461.88" y="671.2" font-size="15.45" fill="#0f3d61" text-anchor="middle" textLength="60.4" lengthAdjust="spacingAndGlyphs">2025-07</text>
<line x1="548.75" x2="548.75" y1="655.5" y2="658.3" stroke="#386998" stroke-width="0.8"/>
<text x="548.75" y="671.2" font-size="15.45" fill="#0f3d61" text-anchor="middle" textLength="60.4" lengthAdjust="spacingAndGlyphs">2025-08</text>
<line x1="635.62" x2="635.62" y1="655.5" y2="658.3" stroke="#386998" stroke-width="0.8"/>
<text x="635.62" y="671.2" font-size="15.45" fill="#0f3d61" text-anchor="middle" textLength="60.4" lengthAdjust="spacingAndGlyphs">2025-09</text>
<line x1="719.69" x2="719.69" y1="655.5" y2="658.3" stroke="#386998" stroke-width="0.8"/>
<text x="719.69" y="671.2" font-size="15.45" fill="#0f3d61" text-anchor="middle" textLength="60.4" lengthAdjust="spacingAndGlyphs">2025-10</text>
<line x1="806.56" x2="806.56" y1="655.5" y2="658.3" stroke="#386998" stroke-width="0.8"/>
<text x="806.56" y="671.2" font-size="15.45" fill="#0f3d61" text-anchor="middle" textLength="60.4" lengthAdjust="spacingAndGlyphs">2025-11</text>
<line x1="890.63" x2="890.63" y1="655.5" y2="658.3" stroke="#386998" stroke-width="0.8"/>
<text x="890.63" y="671.2" font-size="15.45" fill="#0f3d61" text-anchor="middle" textLength="60.4" lengthAdjust="spacingAndGlyphs">2025-12</text>
<line x1="977.50" x2="977.50" y1="655.5" y2="658.3" stroke="#386998" stroke-width="0.8"/>
<text x="977.50" y="671.2" font-size="15.45" fill="#0f3d61" text-anchor="middle" textLength="60.4" lengthAdjust="spacingAndGlyphs">2026-01</text>
<rect x="915.8" y="454.5" width="124.3" height="38" rx="3" fill="#fff" fill-opacity="0.8" stroke="#e4e4e4" stroke-width="1.2"/>
<line x1="919.5" x2="944.1" y1="464.2" y2="464.2" stroke="#7a4547" stroke-width="1.5"/>
<line x1="919.5" x2="944.1" y1="481.3" y2="481.3" stroke="#3a72d8" stroke-width="1.2"/>
<text x="953.4" y="468.5" font-size="12.1" fill="#0f3d61" textLength="34.6" lengthAdjust="spacingAndGlyphs">MACD</text>
<text x="953.4" y="485.7" font-size="12.1" fill="#0f3d61" textLength="82" lengthAdjust="spacingAndGlyphs">MACD SIGNAL</text>
</svg>
</body></html>
